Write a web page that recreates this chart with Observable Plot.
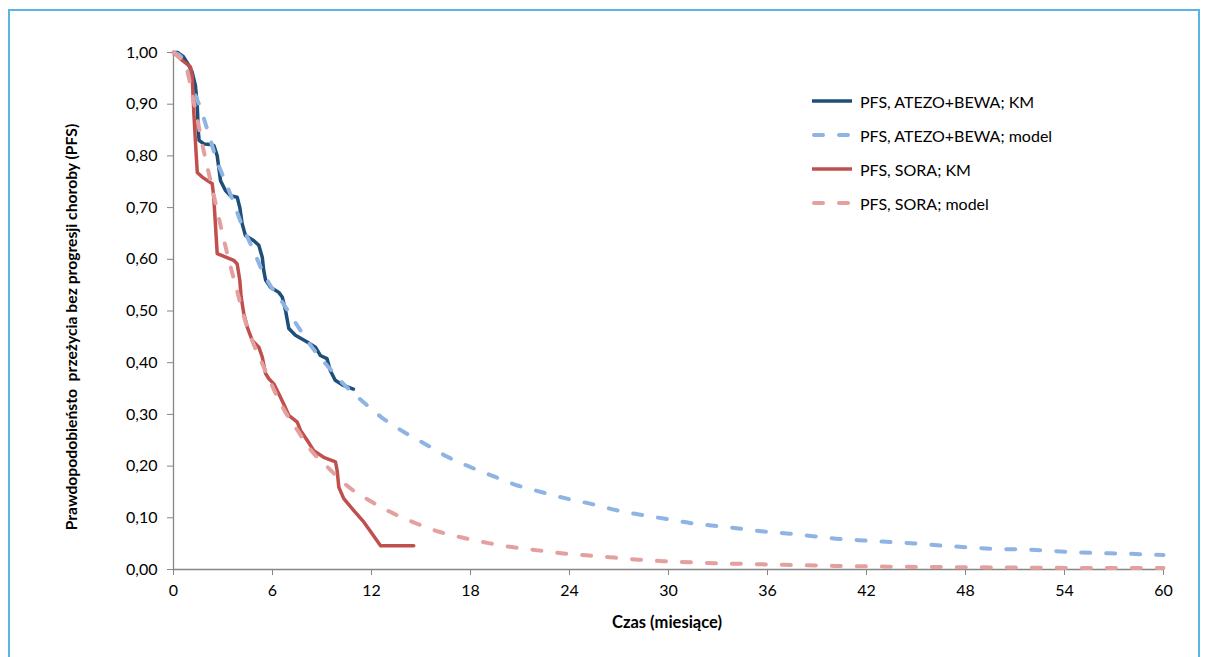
<!DOCTYPE html>
<html><head><meta charset="utf-8">
<script src="https://cdn.jsdelivr.net/npm/d3@7"></script>
<script src="https://cdn.jsdelivr.net/npm/@observablehq/plot@0.6"></script>
<style>
body{margin:0;background:#fff;}
#wrap{position:relative;width:1206px;height:657px;overflow:hidden;font-family:Lato,"Open Sans",sans-serif;color:#000;background:#fff;}
#frame{position:absolute;left:8px;top:9px;width:1192px;height:720px;border:2px solid #5ab4e6;box-sizing:border-box;}
#chart{position:absolute;left:0;top:0;}
.ytitle{position:absolute;left:62px;top:327px;transform-origin:0 0;transform:rotate(-90deg) translate(-50%,0);font-weight:bold;font-size:15.7px;line-height:18px;white-space:pre;}
.xtitle{position:absolute;left:667px;top:622px;transform:translate(-50%,-50%);font-weight:bold;font-size:16.5px;white-space:nowrap;}
#legend{position:absolute;left:810px;top:84px;font-size:16px;}
.row{display:flex;align-items:center;height:34px;white-space:nowrap;}
.row svg{margin-right:6px;}
</style></head>
<body>
<div id="wrap">
  <div id="frame"></div>
  <div id="chart"></div>
  <div class="ytitle"></div>
  <div class="xtitle"></div>
  <div id="legend"></div>
</div>
<script>
// ---- data ----
const xTicks = [0, 6, 12, 18, 24, 30, 36, 42, 48, 54, 60];
const yTicks = [0, 0.1, 0.2, 0.3, 0.4, 0.5, 0.6, 0.7, 0.8, 0.9, 1.0];
const yTitle = "Prawdopodobieństo  przeżycia bez progresji choroby (PFS)";
const xTitle = "Czas (miesiące)";
const seriesNames = ["PFS, ATEZO+BEWA; KM", "PFS, ATEZO+BEWA; model", "PFS, SORA; KM", "PFS, SORA; model"];

const atezoKmTime = [0, 0.25, 0.6, 0.93, 1.13, 1.33, 1.44, 1.5, 1.55, 1.85, 2.25, 2.45, 2.65, 2.75, 2.85, 3.15, 3.45, 3.86, 4.02, 4.16, 4.36, 4.87, 5.17, 5.38, 5.47, 5.58, 5.88, 6.38, 6.59, 6.79, 6.99, 7.39, 8.1, 8.6, 8.9, 9.3, 9.5, 9.8, 10.3, 10.9];
const atezoKmPfs  = [1.0, 1.0, 0.992, 0.975, 0.962, 0.936, 0.897, 0.85, 0.83, 0.823, 0.822, 0.82, 0.80, 0.776, 0.752, 0.733, 0.723, 0.72, 0.70, 0.669, 0.646, 0.636, 0.627, 0.604, 0.578, 0.56, 0.546, 0.536, 0.527, 0.501, 0.466, 0.453, 0.44, 0.43, 0.414, 0.408, 0.385, 0.366, 0.356, 0.349];

const atezoModelTime = [0, 0.5, 0.9, 1.23, 1.64, 2.04, 2.65, 3.05, 3.56, 4.16, 4.77, 5.38, 5.88, 6.68, 7.5, 8.3, 9.3, 10.3, 11.5, 12.75, 13.96, 15.4, 16.6, 18.0, 19.5, 20.9, 22.4, 23.85, 25.3, 26.8, 28.3, 29.8, 31.3, 32.95, 34.4, 35.9, 37.4, 38.9, 40.4, 41.9, 43.5, 45.1, 46.6, 48.1, 49.6, 51.1, 52.7, 54.2, 55.8, 57.3, 60];
const atezoModelPfs  = [1.0, 0.99, 0.96, 0.926, 0.892, 0.852, 0.789, 0.757, 0.717, 0.665, 0.623, 0.578, 0.549, 0.513, 0.472, 0.434, 0.395, 0.359, 0.324, 0.291, 0.266, 0.24, 0.218, 0.198, 0.179, 0.162, 0.149, 0.137, 0.127, 0.115, 0.106, 0.098, 0.090, 0.084, 0.079, 0.073, 0.069, 0.064, 0.059, 0.056, 0.053, 0.050, 0.046, 0.043, 0.040, 0.039, 0.037, 0.034, 0.032, 0.031, 0.028];

const soraKmTime = [0, 0.52, 1.03, 1.13, 1.23, 1.33, 1.44, 1.74, 2.35, 2.44, 2.65, 2.95, 3.65, 3.86, 4.02, 4.1, 4.26, 4.47, 4.77, 5.17, 5.38, 5.58, 5.78, 6.08, 6.38, 6.68, 6.99, 7.5, 7.7, 8.1, 8.5, 9.1, 9.82, 9.92, 10.02, 10.32, 10.93, 11.53, 12.04, 12.55, 14.56];
const soraKmPfs  = [1.0, 0.985, 0.972, 0.955, 0.885, 0.827, 0.768, 0.759, 0.746, 0.72, 0.611, 0.607, 0.598, 0.591, 0.559, 0.527, 0.495, 0.469, 0.443, 0.43, 0.411, 0.379, 0.369, 0.359, 0.34, 0.32, 0.298, 0.285, 0.269, 0.25, 0.23, 0.217, 0.208, 0.191, 0.159, 0.137, 0.114, 0.092, 0.069, 0.046, 0.046];

const soraModelTime = [0, 0.45, 0.83, 1.13, 1.44, 1.74, 2.04, 2.35, 2.75, 3.05, 3.45, 3.86, 4.26, 4.77, 5.38, 5.98, 6.68, 7.5, 8.3, 9.5, 10.6, 11.9, 13.35, 14.8, 16.2, 17.6, 19.1, 20.6, 22.1, 23.65, 25.2, 26.7, 28.2, 29.7, 31.3, 32.8, 34.5, 37, 40, 45, 50, 55, 60];
const soraModelPfs  = [1.0, 0.987, 0.965, 0.92, 0.872, 0.823, 0.78, 0.737, 0.68, 0.638, 0.587, 0.538, 0.49, 0.443, 0.398, 0.355, 0.31, 0.27, 0.232, 0.193, 0.16, 0.133, 0.108, 0.088, 0.072, 0.061, 0.051, 0.043, 0.037, 0.031, 0.027, 0.023, 0.019, 0.016, 0.014, 0.012, 0.011, 0.009, 0.007, 0.005, 0.004, 0.003, 0.003];

// ---- styles ----
const colors = ["#1f4e79", "#8db4e2", "#c0504d", "#e3a09f"];
const dashed = [false, true, false, true];

const toRows = (ts, ss) => ts.map((t, i) => ({t, s: ss[i]}));
const atezoKm = toRows(atezoKmTime, atezoKmPfs);
const atezoModel = toRows(atezoModelTime, atezoModelPfs);
const soraKm = toRows(soraKmTime, soraKmPfs);
const soraModel = toRows(soraModelTime, soraModelPfs);

const fmt = d => d.toFixed(2).replace(".", ",");
const kmStyle = c => ({x: "t", y: "s", stroke: c, strokeWidth: 3.5, curve: "linear", strokeLinejoin: "round"});
const modelStyle = c => ({x: "t", y: "s", stroke: c, strokeWidth: 4, curve: "monotone-x", strokeDasharray: "9,16", strokeLinecap: "round"});

const chart = Plot.plot({
  width: 1206, height: 657,
  marginLeft: 173, marginRight: 43, marginTop: 52, marginBottom: 88,
  style: {fontFamily: "Lato, 'Open Sans', sans-serif", fontSize: "16px", color: "#000", background: "transparent"},
  x: {domain: [0, 60], label: null},
  y: {domain: [0, 1], label: null},
  marks: [
    Plot.axisY({ticks: yTicks, tickFormat: fmt, tickSize: 6, tickPadding: 10, stroke: "#868686", label: null}),
    Plot.axisX({ticks: xTicks, tickSize: 6, tickPadding: 9, stroke: "#868686", label: null}),
    Plot.ruleX([0], {stroke: "#868686", strokeWidth: 1.3}),
    Plot.ruleY([0], {stroke: "#868686", strokeWidth: 1.3}),
    Plot.line(atezoKm, kmStyle(colors[0])),
    Plot.line(atezoModel, modelStyle(colors[1])),
    Plot.line(soraKm, kmStyle(colors[2])),
    Plot.line(soraModel, modelStyle(colors[3]))
  ]
});
document.getElementById("chart").appendChild(chart);
document.querySelector(".ytitle").textContent = yTitle;
document.querySelector(".xtitle").textContent = xTitle;

const legend = document.getElementById("legend");
seriesNames.forEach((name, i) => {
  const row = document.createElement("div");
  row.className = "row";
  const dash = dashed[i] ? 'stroke-dasharray="9,16" stroke-linecap="round"' : '';
  const x1 = dashed[i] ? 4 : 2;
  row.innerHTML = `<svg width="44" height="10"><line x1="${x1}" y1="5" x2="42" y2="5" stroke="${colors[i]}" stroke-width="${dashed[i] ? 4 : 3.5}" ${dash}/></svg><span>${name}</span>`;
  legend.appendChild(row);
});
</script>
</body></html>
